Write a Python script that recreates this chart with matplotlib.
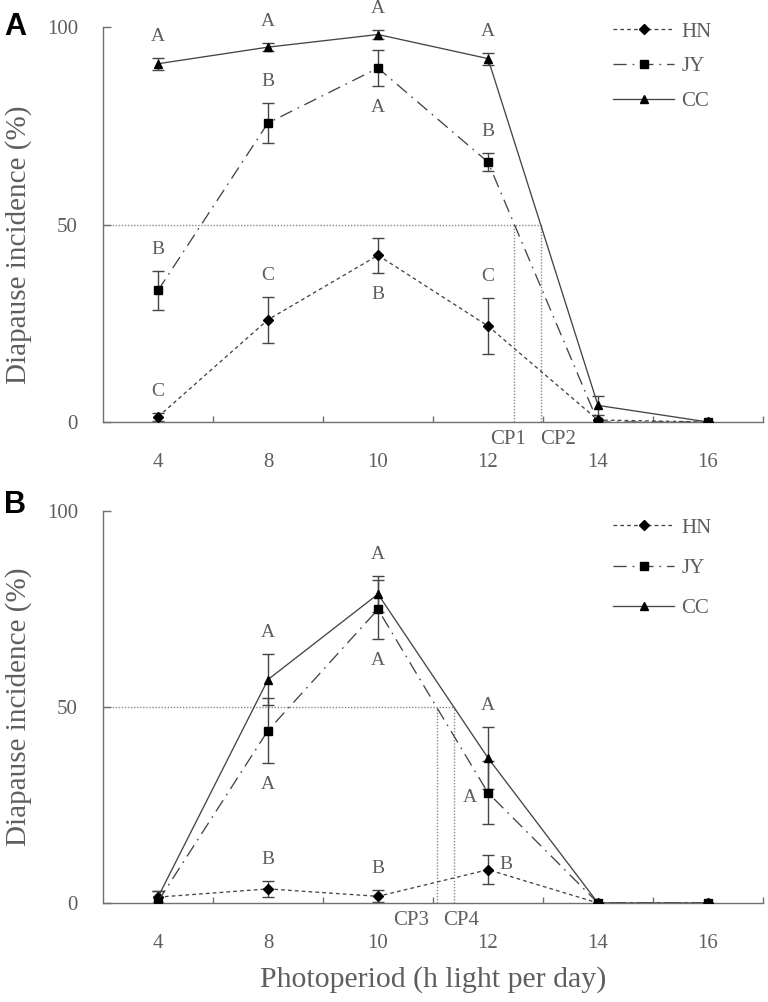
import matplotlib
matplotlib.use("Agg")
import matplotlib.pyplot as plt
import numpy as np

# ---------------- data ----------------
photoperiod = ["4", "8", "10", "12", "14", "16"]
series_names = ["HN", "JY", "CC"]

# Panel A
a_hn = [1.3, 25.9, 42.2, 24.3, 0.5, 0.0]
a_hn_err = [1.0, 5.8, 4.4, 7.2, 0.0, 0.0]
a_jy = [33.3, 75.7, 89.6, 65.8, 0.0, 0.0]
a_jy_err = [5.0, 5.0, 4.5, 2.3, 0.0, 0.0]
a_cc = [90.7, 94.9, 98.1, 92.0, 4.2, 0.0]
a_cc_err = [1.5, 1.0, 1.2, 1.5, 2.4, 0.0]
a_hn_letters = ["C", "C", "B", "C"]
a_jy_letters = ["B", "B", "A", "B"]
a_cc_letters = ["A", "A", "A", "A"]
a_cp_labels = ["CP1", "CP2"]

# Panel B
b_hn = [1.5, 3.6, 1.7, 8.5, 0.0, 0.0]
b_hn_err = [1.5, 2.0, 1.5, 3.7, 0.0, 0.0]
b_jy = [0.4, 44.0, 74.9, 28.1, 0.0, 0.0]
b_jy_err = [0.0, 8.3, 7.6, 8.0, 0.0, 0.0]
b_cc = [1.5, 57.0, 78.8, 37.0, 0.0, 0.0]
b_cc_err = [1.5, 6.6, 4.5, 7.8, 0.0, 0.0]
b_hn_letters = ["", "B", "B", "B"]
b_jy_letters = ["", "A", "A", "A"]
b_cc_letters = ["", "A", "A", "A"]
b_cp_labels = ["CP3", "CP4"]

# ---------------- style ----------------
SERIF = ["Liberation Serif", "DejaVu Serif"]
TXT = "#5e5e5e"
LINE = "#454545"
AX = "#707070"

styles = {
    "HN": dict(marker="D", ms=5.0, dashes=(2.8, 2.4)),
    "JY": dict(marker="s", ms=5.2, dashes=(10.0, 4.5, 1.3, 4.5)),
    "CC": dict(marker="^", ms=6.0, dashes=None),
}

fig = plt.figure(figsize=(7.68, 10.02), dpi=100)
W, H = 768.0, 1002.0


def px_axes(left, top, right, bottom):
    return fig.add_axes([left / W, 1 - bottom / H, (right - left) / W, (bottom - top) / H])


def crossing(vals, level=50.0):
    i0 = int(np.argmax(vals))
    for i in range(i0, len(vals) - 1):
        if vals[i] >= level > vals[i + 1]:
            return i + (vals[i] - level) / (vals[i] - vals[i + 1])
    return None


def draw_panel(ax, data, letters, cp_labels, cp_offsets, letter_modes, legend_spacing,
               legend_anchor):
    x = np.arange(len(photoperiod))
    ax.set_xlim(-0.5, len(photoperiod) - 0.5)
    ax.set_ylim(0, 100)

    # critical photoperiod guide lines
    cps = [crossing(data["JY"][0]), crossing(data["CC"][0])]
    ax.plot([-0.5, max(cps)], [50, 50], ls=(0, (1, 1.2)), color="#8a8a8a", lw=1.0, zorder=1)
    for cp, lab, off in zip(cps, cp_labels, cp_offsets):
        ax.plot([cp, cp], [0, 50], ls=(0, (1, 1.2)), color="#8a8a8a", lw=1.0, zorder=1)
        ax.annotate(lab, xy=(cp, 0), xytext=(off, -12.5), textcoords="offset points",
                    ha="center", va="center", fontsize=15, family=SERIF, color=TXT,
                    annotation_clip=False)

    handles = []
    for name in ["HN", "CC", "JY"]:
        vals, errs = data[name]
        st = styles[name]
        kw = dict(color=LINE, lw=0.95, marker=st["marker"], ms=st["ms"],
                  mfc="black", mec="black", zorder=3)
        if st["dashes"] is None:
            (ln,) = ax.plot(x, vals, ls="-", **kw)
        else:
            (ln,) = ax.plot(x, vals, ls=(0, st["dashes"]), **kw)
        handles.append((name, ln))
        mask = np.array(errs) > 0
        ax.errorbar(x[mask], np.array(vals)[mask], yerr=np.array(errs)[mask], fmt="none",
                    ecolor=LINE, elinewidth=1.0, capsize=4.2, capthick=1.0, zorder=2)

    # significance letters
    for name in ["HN", "JY", "CC"]:
        vals, errs = data[name]
        for i, lt in enumerate(letters[name]):
            if not lt:
                continue
            mode = letter_modes.get((name, i), "above")
            if mode == "above":
                xy, off = (i, vals[i] + errs[i]), (0, 15.5)
            elif mode == "below":
                xy, off = (i, vals[i] - errs[i]), (0, -15.5)
            elif mode == "left":
                xy, off = (i, vals[i]), (-13, -3)
            else:
                xy, off = (i, vals[i]), (13, 3.5)
            ax.annotate(lt, xy=xy, xytext=off, textcoords="offset points", ha="center",
                        va="center", fontsize=14, family=SERIF, color=TXT,
                        annotation_clip=False)

    # axes styling
    for s in ["top", "right"]:
        ax.spines[s].set_visible(False)
    for s in ["left", "bottom"]:
        ax.spines[s].set_color(AX)
        ax.spines[s].set_linewidth(1.0)
    ax.set_xticks(x)
    ax.set_xticklabels(photoperiod)
    ax.set_xticks(np.arange(0.5, len(photoperiod)), minor=True)
    ax.tick_params(axis="x", which="major", length=0, pad=22, labelsize=15, labelcolor=TXT)
    ax.tick_params(axis="x", which="minor", direction="in", length=4, width=1.0, color=AX)
    ax.set_yticks([0, 50, 100])
    ax.tick_params(axis="y", which="major", direction="in", length=6, width=1.0, color=AX,
                   pad=18, labelsize=15, labelcolor=TXT)
    for lab in ax.get_xticklabels() + ax.get_yticklabels():
        lab.set_family(SERIF)
    ax.set_ylabel("Diapause incidence (%)", family=SERIF, fontsize=21, color=TXT)

    order = {"HN": 0, "JY": 1, "CC": 2}
    handles.sort(key=lambda t: order[t[0]])
    leg = ax.legend([h for _, h in handles], [n for n, _ in handles], loc="upper left",
                    bbox_to_anchor=legend_anchor, frameon=False, handlelength=2.9,
                    handletextpad=0.35, labelspacing=legend_spacing,
                    prop=dict(family=SERIF, size=15))
    for t in leg.get_texts():
        t.set_color(TXT)


axA = px_axes(103, 27, 763, 422)
axB = px_axes(103, 511, 763, 903)

draw_panel(
    axA,
    {"HN": (a_hn, a_hn_err), "JY": (a_jy, a_jy_err), "CC": (a_cc, a_cc_err)},
    {"HN": a_hn_letters, "JY": a_jy_letters, "CC": a_cc_letters},
    a_cp_labels, [-4.5, 12.5],
    {("JY", 2): "below", ("HN", 2): "below"},
    0.72, (0.745, 1.06),
)
draw_panel(
    axB,
    {"HN": (b_hn, b_hn_err), "JY": (b_jy, b_jy_err), "CC": (b_cc, b_cc_err)},
    {"HN": b_hn_letters, "JY": b_jy_letters, "CC": b_cc_letters},
    b_cp_labels, [-18, 5],
    {("JY", 1): "below", ("JY", 2): "below", ("JY", 3): "left", ("HN", 3): "right"},
    1.0, (0.745, 1.03),
)
axA.yaxis.set_label_coords(-0.108, 0.45)
axB.yaxis.set_label_coords(-0.108, 0.5)
axB.set_xlabel("Photoperiod (h light per day)", family=SERIF, fontsize=21.5, color=TXT,
               labelpad=10)

fig.text(4 / W, 1 - 12 / H, "A", fontsize=22, fontweight="bold",
         family=["Liberation Sans", "DejaVu Sans"], va="top", ha="left")
fig.text(4 / W, 1 - 490 / H, "B", fontsize=22, fontweight="bold",
         family=["Liberation Sans", "DejaVu Sans"], va="top", ha="left")

fig.savefig("out.png", dpi=100)
